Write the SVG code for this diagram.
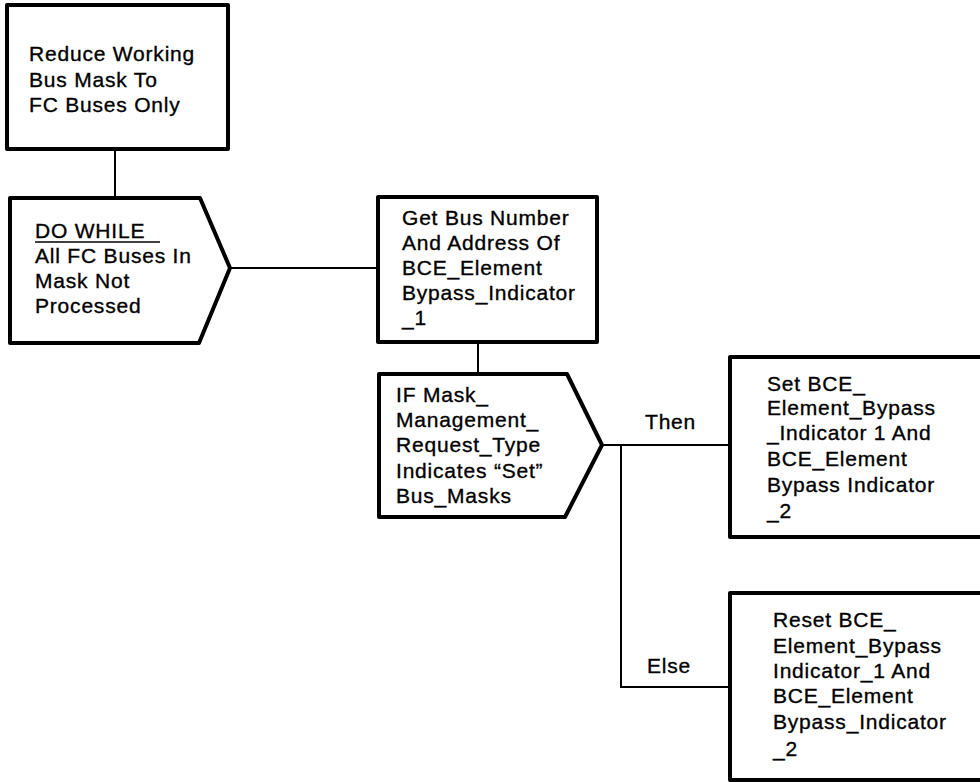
<svg xmlns="http://www.w3.org/2000/svg" width="980" height="782" viewBox="0 0 980 782">
  <style>
    .box { fill: #fff; stroke: #000; stroke-width: 4; stroke-linejoin: round; }
    .wire { fill: none; stroke: #000; stroke-width: 2; }
    text { font-family: "Liberation Sans", Arial, sans-serif; font-size: 21px; letter-spacing: 0.8px; fill: #000; stroke: #000; stroke-width: 0.35; }
  </style>
  <rect width="980" height="782" fill="#fff"/>

  <!-- connectors -->
  <g id="connectors">
    <line class="wire" x1="115" y1="149" x2="115" y2="198"/>
    <line class="wire" x1="230" y1="268" x2="378" y2="268"/>
    <line class="wire" x1="478" y1="342" x2="478" y2="374"/>
    <line class="wire" x1="602" y1="445" x2="730" y2="445"/>
    <polyline class="wire" points="621,445 621,687 730,687"/>
    <text x="645" y="429">Then</text>
    <text x="647" y="673">Else</text>
  </g>

  <g id="reduce-mask">
    <rect class="box" x="7" y="5" width="221" height="144"/>
    <text x="29" y="61">Reduce Working</text>
    <text x="29" y="87">Bus Mask To</text>
    <text x="29" y="112">FC Buses Only</text>
  </g>

  <g id="do-while">
    <polygon class="box" points="10,198 200,198 230,268 199,343 10,343"/>
    <text x="35" y="238">DO WHILE</text>
    <line x1="35" y1="242" x2="160" y2="242" stroke="#000" stroke-width="1.5"/>
    <text x="35" y="263">All FC Buses In</text>
    <text x="35" y="288">Mask Not</text>
    <text x="35" y="313">Processed</text>
  </g>

  <g id="get-bus-number">
    <rect class="box" x="378" y="197" width="219" height="145"/>
    <text x="402" y="225">Get Bus Number</text>
    <text x="402" y="250">And Address Of</text>
    <text x="402" y="275">BCE_Element</text>
    <text x="402" y="300">Bypass_Indicator</text>
    <text x="402" y="325">_1</text>
  </g>

  <g id="if-set">
    <polygon class="box" points="379,374 567,374 602,445 565,517 379,517"/>
    <text x="396" y="402">IF Mask_</text>
    <text x="396" y="427">Management_</text>
    <text x="396" y="452">Request_Type</text>
    <text x="396" y="478">Indicates “Set”</text>
    <text x="396" y="503">Bus_Masks</text>
  </g>

  <g id="set-bypass">
    <rect class="box" x="730" y="357" width="260" height="180"/>
    <text x="767" y="391">Set BCE_</text>
    <text x="767" y="415">Element_Bypass</text>
    <text x="767" y="440">_Indicator 1 And</text>
    <text x="767" y="466">BCE_Element</text>
    <text x="767" y="492">Bypass Indicator</text>
    <text x="767" y="518">_2</text>
  </g>

  <g id="reset-bypass">
    <rect class="box" x="730" y="593" width="260" height="187"/>
    <text x="773" y="627">Reset BCE_</text>
    <text x="773" y="653">Element_Bypass</text>
    <text x="773" y="678">Indicator_1 And</text>
    <text x="773" y="703">BCE_Element</text>
    <text x="773" y="729">Bypass_Indicator</text>
    <text x="773" y="756">_2</text>
  </g>
</svg>
